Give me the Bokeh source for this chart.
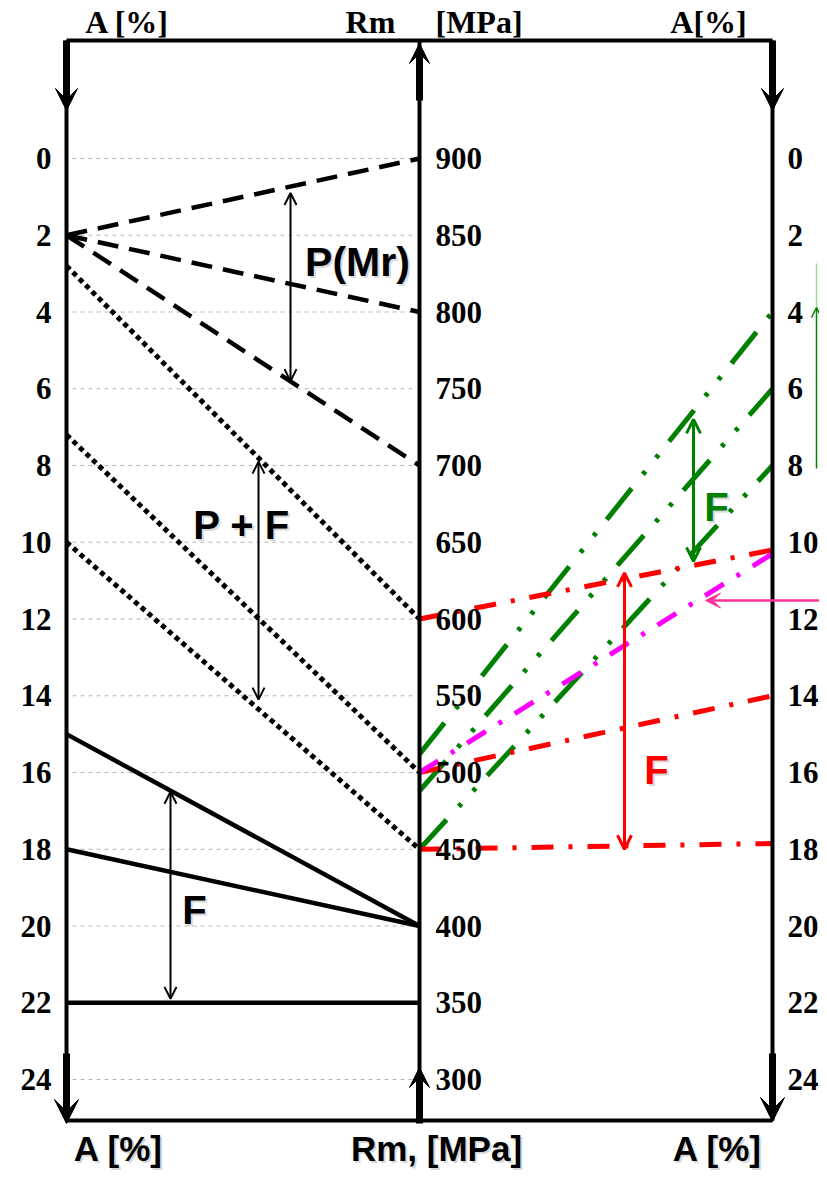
from bokeh.plotting import figure
from bokeh.models import Range1d, Arrow, VeeHead, OpenHead, ColumnDataSource
from bokeh.core.properties import value
from bokeh.embed import file_html
from bokeh.resources import INLINE

# ---------------- data ----------------
A_TICKS = [0, 2, 4, 6, 8, 10, 12, 14, 16, 18, 20, 22, 24]
RM_TICKS = [900, 850, 800, 750, 700, 650, 600, 550, 500, 450, 400, 350, 300]

# left panel: A [%] on left axis -> Rm [MPa] on middle axis
PMR_A_LEFT = [2.0, 2.0, 2.0]
PMR_RM = [900, 800, 700]
PF_A_LEFT = [2.8, 7.2, 10.0]
PF_RM = [600, 500, 450]
F_A_LEFT = [15.0, 18.0, 22.0]
F_RM = [400, 400, 350]

# right panel: Rm [MPa] on middle axis -> A [%] on right axis
RED_RM = [600, 500, 450]
RED_A_RIGHT = [10.2, 14.0, 17.85]
MAGENTA_RM = [500]
MAGENTA_A_RIGHT = [10.3]
GREEN_RM = [512, 488, 450]
GREEN_A_RIGHT = [4.0, 6.0, 8.0]

# spans marked by the double arrows (A [%] scale)
SPAN_PMR = [0.9, 5.8]
SPAN_PF = [7.9, 14.1]
SPAN_F_LEFT = [16.5, 21.9]
SPAN_F_RED = [10.8, 18.0]
SPAN_F_GREEN = [6.8, 10.5]


def rm_y(rm):
    # Rm scale shares the vertical axis: 900 MPa at A=0, 50 MPa per 2 %
    return (900.0 - rm) / 25.0


# ---------------- layout helpers ----------------
PX0, PX_UNIT = 66.0, 353.0     # left axis at x=0, middle at 1, right at 2
PY0, PY_UNIT = 158.0, 38.375   # A=0 row, pixels per 1 %


def sx(px):
    return (px - PX0) / PX_UNIT


def sy(py):
    return (py - PY0) / PY_UNIT


W, H = 819, 1170
p = figure(width=W, height=H,
           x_range=Range1d(sx(0), sx(W)),
           y_range=Range1d(sy(H), sy(0)),
           output_backend="svg", toolbar_location=None,
           x_axis_type=None, y_axis_type=None, min_border=0)
p.outline_line_color = None
p.background_fill_color = "white"
p.border_fill_color = "white"

# grid lines (left panel only)
p.segment(x0=[sx(72)] * len(A_TICKS), x1=[sx(415)] * len(A_TICKS),
          y0=A_TICKS, y1=A_TICKS, line_color="#b4b4b4", line_width=1,
          line_dash="4 4")


def connect(x0, x1, ys0, ys1, **kw):
    src = ColumnDataSource(dict(xs=[[x0, x1] for _ in ys0],
                                ys=[[a, b] for a, b in zip(ys0, ys1)]))
    p.multi_line("xs", "ys", source=src, **kw)


connect(0, 1, PMR_A_LEFT, [rm_y(r) for r in PMR_RM],
        line_color="black", line_width=4.5, line_dash="21 11")
connect(0, 1, PF_A_LEFT, [rm_y(r) for r in PF_RM],
        line_color="black", line_width=5, line_dash="5 4")
connect(0, 1, F_A_LEFT, [rm_y(r) for r in F_RM],
        line_color="black", line_width=4.5)
connect(1, 2, [rm_y(r) for r in GREEN_RM], GREEN_A_RIGHT,
        line_color="#008000", line_width=5, line_dash="40 18 4 17 4 17")
connect(1, 2, [rm_y(r) for r in RED_RM], RED_A_RIGHT,
        line_color="#ff0000", line_width=5, line_dash="22 15 4 15")
connect(1, 2, [rm_y(r) for r in MAGENTA_RM], MAGENTA_A_RIGHT,
        line_color="#ff00ff", line_width=5, line_dash="22 15 4 15")

# ---------------- frame ----------------
p.segment(x0=[0, 0], x1=[2, 2], y0=[sy(40), sy(1120)], y1=[sy(40), sy(1120)],
          line_color="black", line_width=4)
p.segment(x0=[0, 1, 2], x1=[0, 1, 2], y0=[sy(40)] * 3, y1=[sy(1120)] * 3,
          line_color="black", line_width=4)


def thick_arrow(x, y0, y1, size):
    p.add_layout(Arrow(end=VeeHead(size=size, fill_color="black", line_color="black",
                                   line_width=1),
                       x_start=x, y_start=sy(y0), x_end=x, y_end=sy(y1),
                       line_color="black", line_width=7))


thick_arrow(0, 40, 110, 22)
thick_arrow(1, 100, 43, 20)
thick_arrow(2, 40, 110, 22)
thick_arrow(0, 1053, 1123, 24)
thick_arrow(1, 1123, 1067, 20)
thick_arrow(2, 1053, 1121, 24)


def double_arrow(x, span, color, lw, size):
    p.add_layout(Arrow(start=OpenHead(size=size, line_color=color, line_width=lw),
                       end=OpenHead(size=size, line_color=color, line_width=lw),
                       x_start=x, y_start=span[0], x_end=x, y_end=span[1],
                       line_color=color, line_width=lw))


double_arrow(sx(290), SPAN_PMR, "black", 2, 12)
double_arrow(sx(258), SPAN_PF, "black", 2, 12)
double_arrow(sx(170), SPAN_F_LEFT, "black", 2, 12)
double_arrow(sx(624), SPAN_F_RED, "#ff0000", 3, 14)
double_arrow(sx(693), SPAN_F_GREEN, "#008000", 3, 14)

# pink pointer arrow
p.add_layout(Arrow(end=VeeHead(size=15, fill_color="#ff3399", line_color="#ff3399",
                               line_width=1),
                   x_start=sx(830), y_start=sy(600), x_end=sx(705), y_end=sy(600),
                   line_color="#ff3399", line_width=2.5))

# green pointer at the right edge (cut off)
p.segment(x0=[sx(816)], x1=[sx(816)], y0=[sy(263)], y1=[sy(307)],
          line_color="#9fd49f", line_width=1.5)
p.add_layout(Arrow(end=OpenHead(size=10, line_color="#008000", line_width=1.5),
                   x_start=sx(816), y_start=sy(468), x_end=sx(816), y_end=sy(307),
                   line_color="#008000", line_width=1.5))


# ---------------- texts ----------------
def label(x, y, txt, size, color="black", font="Liberation Sans", weight="bold",
          align="center", baseline="middle", shadow=False):
    xs = x if isinstance(x, list) else [x]
    ys = y if isinstance(y, list) else [y]
    ts = txt if isinstance(txt, list) else [txt]
    common = dict(text_font=value(font), text_font_size=value(f"{size}px"),
                  text_font_style=weight, text_align=align, text_baseline=baseline)
    if shadow:
        p.text(x=xs, y=ys, text=ts, x_offset=2, y_offset=2, text_color="#777777",
               text_alpha=0.3, **common)
    p.text(x=xs, y=ys, text=ts, text_color=color, **common)


n = len(A_TICKS)
label([sx(51)] * n, A_TICKS, [str(a) for a in A_TICKS], 31, font="Liberation Serif",
      align="right")
label([sx(787)] * n, A_TICKS, [str(a) for a in A_TICKS], 31, font="Liberation Serif",
      align="left")
label([sx(435)] * len(RM_TICKS), [rm_y(r) for r in RM_TICKS],
      [str(r) for r in RM_TICKS], 31, font="Liberation Serif", align="left")

# top headings (vertical centre of the capitals)
label(sx(127), sy(21.5), "A [%]", 32, font="Liberation Serif")
label(sx(370), sy(21.5), "Rm", 32, font="Liberation Serif")
label(sx(435), sy(21.5), "[MPa]", 32, font="Liberation Serif", align="left")
label(sx(708), sy(21.5), "A[%]", 32, font="Liberation Serif")

# bottom headings
label(sx(118), sy(1148), "A [%]", 35, shadow=True)
label(sx(436), sy(1148), "Rm, [MPa]", 35, shadow=True)
label(sx(717), sy(1148), "A [%]", 35, shadow=True)

# group labels
label(sx(357), sy(261), "P(Mr)", 41, shadow=True)
label(sx(241), sy(524), "P + F", 40, shadow=True)
label(sx(194), sy(909), "F", 40, shadow=True)
label(sx(716), sy(506), "F", 40, color="#008000", shadow=True)
label(sx(656), sy(769), "F", 40, color="#ff0000", shadow=True)

open("out.html", "w").write(file_html(p, INLINE))
